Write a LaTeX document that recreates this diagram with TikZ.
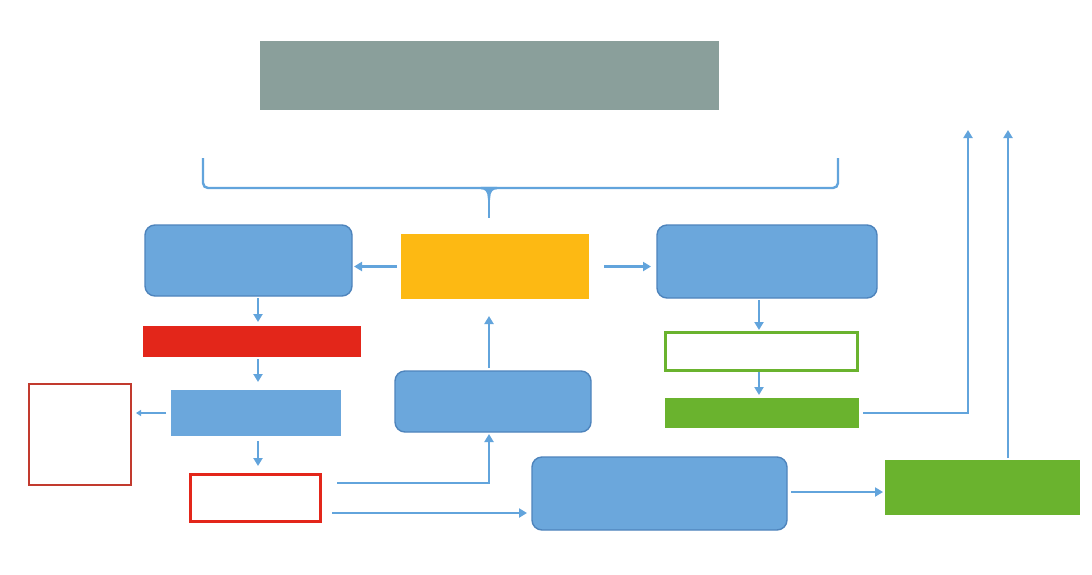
\documentclass[tikz,border=0pt]{standalone}
\usetikzlibrary{calc,arrows.meta}
\definecolor{bfill}{HTML}{6BA7DC}
\definecolor{bdraw}{HTML}{4E84BC}
\definecolor{arr}{HTML}{62A4DC}
\definecolor{orng}{HTML}{FDB913}
\definecolor{redb}{HTML}{E3261A}
\definecolor{redo}{HTML}{C23A2E}
\definecolor{grn}{HTML}{6AB32E}
\definecolor{gry}{HTML}{8A9F9B}
\tikzset{
  box/.style={inner sep=0pt,outer sep=0pt,minimum width=#1},
  rbox/.style={box=#1,fill=bfill,draw=bdraw,line width=1.4pt,rounded corners=10pt},
  sbox/.style={box=#1,fill=bfill},
  conn/.style={draw=arr,line width=2.8pt,-{Triangle[length=8pt,width=9pt]}},
  thinconn/.style={draw=arr,line width=1.4pt,-{Triangle[length=5pt,width=6pt]}}
}
\begin{document}
\begin{tikzpicture}[x=1pt,y=-1pt]
\useasboundingbox[fill=white] (0,0) rectangle (1092,574);
% title bar
\node[box=459pt,minimum height=69pt,fill=gry] (title) at (489.5,75.5) {};
% brace
\draw[arr,line width=2.4pt,rounded corners=5pt] (203,158) -- (203,188) -- (838,188) -- (838,158);
\draw[arr,line width=2.4pt,fill=arr] (481,188) .. controls (486,188) and (489,191) .. (489,198)
   .. controls (489,191) and (492,188) .. (497,188) -- cycle;
\draw[arr,line width=2.4pt] (489,196) -- (489,218);
% nodes
\node[rbox=207pt,minimum height=71pt] (b1) at (248.5,260.5) {};
\node[box=188pt,minimum height=65pt,fill=orng] (org) at (495,266.5) {};
\node[rbox=220pt,minimum height=73pt] (b2) at (767,261.5) {};
\node[box=218pt,minimum height=31pt,fill=redb] (redbar) at (252,341.5) {};
\node[sbox=170pt,minimum height=46pt] (b4) at (256,413) {};
\node[box=102pt,minimum height=101pt,draw=redo,line width=1.4pt] (rsq) at (80,434.5) {};
\node[box=130pt,minimum height=47pt,draw=redb,line width=3pt] (rrect) at (255,497.5) {};
\node[rbox=196pt,minimum height=61pt] (b3) at (493,401.5) {};
\node[rbox=255pt,minimum height=73pt] (big) at (659.5,493.5) {};
\node[box=195pt,minimum height=55pt,fill=grn] (gbig) at (982.5,487.5) {};
\node[box=192pt,minimum height=38pt,draw=grn,line width=3pt] (gout) at (761,351) {};
\node[box=194pt,minimum height=30pt,fill=grn] (gf) at (762,413) {};
\coordinate (top1) at (968,130);
\coordinate (top2) at (1008,130);
% connectors
\draw[conn,shorten <=4pt,shorten >=2pt] (org.west) -- (b1.east |- org.west);
\draw[conn,shorten <=15pt,shorten >=6pt] (org.east) -- (b2.west |- org.east);
\draw[conn,shorten <=2pt,shorten >=4pt] (b1.south -| 258,0) -- (redbar.north -| 258,0);
\draw[conn,shorten <=2pt,shorten >=8pt] (redbar.south -| 258,0) -- (b4.north -| 258,0);
\draw[thinconn,shorten <=5pt,shorten >=5pt] (b4.west) -- (rsq.east |- b4.west);
\draw[conn,shorten <=5pt,shorten >=8pt] (b4.south -| 258,0) -- (rrect.north -| 258,0);
\draw[conn,shorten >=2pt] ($(rrect.east)+(17,-14.5)$) -| (b3.south -| 489,0);
\draw[conn,shorten >=5pt] ($(rrect.east)+(12,15.5)$) -- (big.west |- 0,513);
\draw[conn,shorten <=3pt,shorten >=17pt] (b3.north -| 489,0) -- (org.south -| 489,0);
\draw[conn,shorten <=4pt,shorten >=2pt] (big.east |- 0,492) -- (gbig.west |- 0,492);
\draw[conn,shorten <=2pt] (gbig.north -| top2) -- (top2);
\draw[conn,shorten <=2pt,shorten >=2pt] (b2.south -| 759,0) -- (gout.north -| 759,0);
\draw[conn,shorten <=2pt,shorten >=3pt] (gout.south -| 759,0) -- (gf.north -| 759,0);
\draw[conn,shorten <=4pt] (gf.east) -| (top1);
\end{tikzpicture}
\end{document}
